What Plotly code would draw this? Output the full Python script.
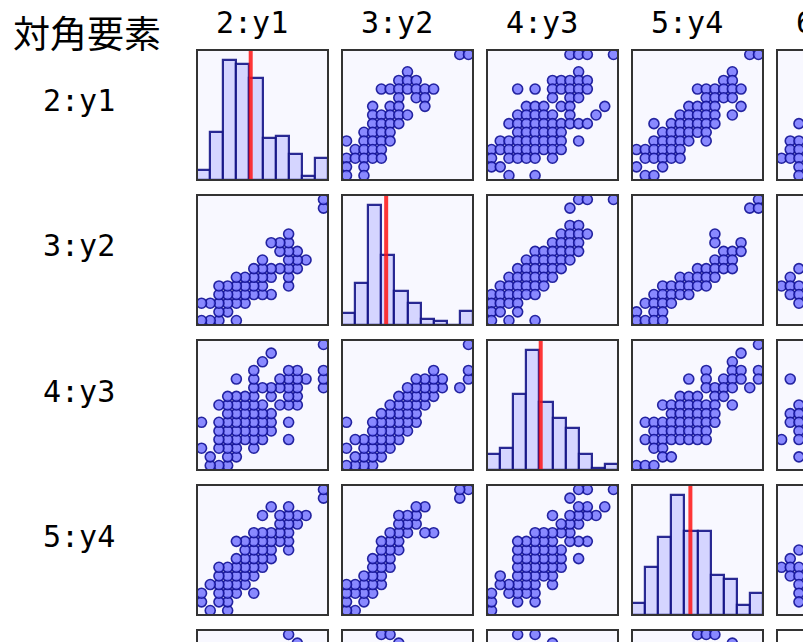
import plotly.graph_objects as go

W, H = 803, 642

# ---------------- labels ----------------
title_text = "対角要素"
var_labels = ["2:y1", "3:y2", "4:y3", "5:y4", "6:y5"]

# ---------------- histogram data (10 bins over [0, 14]) ----------------
hist_min, hist_max = 0, 14
hist_y1 = [5, 24, 60, 58, 51, 21, 22, 13, 2, 11]
hist_y2 = [6, 21, 60, 35, 17, 11, 3, 2, 0, 7]
hist_y3 = [8, 11, 38, 60, 34, 26, 21, 8, 1, 3]
hist_y4 = [6, 24, 39, 60, 42, 42, 20, 18, 5, 11]
means = [5.74, 4.72, 5.74, 6.24]

# ---------------- scatter data: {row value: [column values]} ----------------
# row variable on the y axis, column variable on the x axis
y1_vs_y2 = {14: [13, 14], 12: [7], 11: [6, 7, 8], 10: [4, 5, 6, 7, 8, 9, 10],
            9: [6, 8, 9], 8: [3, 5, 6, 9], 7: [3, 4, 5, 6, 7], 6: [3, 4, 5, 6],
            5: [2, 3, 4, 5], 4: [0, 2, 3, 4, 5], 3: [1, 2, 3, 4],
            2: [0, 1, 2, 3, 4], 1: [0, 2], 0: [0, 2]}
y1_vs_y3 = {14: [9, 10, 11, 14], 12: [10], 11: [7, 8, 9, 10, 11],
            10: [3, 5, 7, 8, 9, 10, 11], 9: [7, 9, 10], 8: [4, 5, 6, 8, 9, 13],
            7: [3, 4, 5, 6, 7, 9, 12], 6: [2, 3, 4, 5, 6, 7, 8, 9, 10, 11],
            5: [3, 4, 5, 6, 7, 8], 4: [1, 2, 3, 4, 5, 6, 7, 8, 10],
            3: [0, 1, 2, 3, 4, 5, 6, 7, 8], 2: [0, 2, 3, 4, 5, 7], 1: [0, 1], 0: [2, 5]}
y1_vs_y4 = {14: [13, 14], 12: [11], 11: [10, 11], 10: [7, 8, 9, 10, 11, 12],
            9: [8, 9, 10, 11], 8: [6, 7, 8, 9, 12], 7: [5, 6, 7, 8, 9, 11],
            6: [2, 4, 5, 6, 7, 8, 9], 5: [3, 4, 5, 6, 7, 8], 4: [2, 3, 4, 5, 6, 8],
            3: [0, 1, 2, 3, 4, 5], 2: [1, 2, 3, 4, 5], 1: [0, 3], 0: [1, 2]}
y2_vs_y3 = {14: [10, 11, 14], 13: [9], 11: [9, 10], 10: [8, 9, 10, 11],
            9: [7, 8, 9, 10], 8: [5, 6, 7, 8, 9, 10], 7: [4, 5, 6, 7, 8, 9],
            6: [3, 4, 5, 6, 7, 8], 5: [2, 3, 4, 5, 6, 7], 4: [1, 2, 3, 4, 5, 6],
            3: [0, 1, 2, 3, 4, 5], 2: [0, 1, 2, 3], 1: [0, 1, 3], 0: [0, 2, 5]}
y2_vs_y4 = {14: [14], 13: [13, 14], 10: [9], 9: [9, 12], 8: [10, 11, 12],
            7: [9, 10, 11], 6: [7, 8, 9, 10, 11], 5: [5, 6, 7, 8, 9],
            4: [3, 4, 5, 6, 7, 8], 3: [2, 3, 4, 5, 6], 2: [1, 2, 3, 4],
            1: [0, 2, 3], 0: [0, 1, 2, 3]}
y3_vs_y4 = {14: [14], 13: [12], 12: [11], 11: [8, 11, 12, 14],
            10: [6, 8, 10, 11, 12, 14], 9: [8, 9, 10, 11, 13], 8: [5, 6, 7, 9, 10],
            7: [3, 4, 5, 6, 7, 8, 9, 11], 6: [4, 5, 6, 7, 8, 9],
            5: [1, 2, 3, 4, 5, 6, 7, 8, 9], 4: [2, 3, 4, 5, 6, 7, 8],
            3: [1, 2, 3, 4, 5, 6, 7, 8], 2: [2, 3], 1: [3, 4], 0: [0, 1, 2]}
# partially visible panels (y5 column / row)
y1_vs_y5 = {6: [2], 4: [1, 2], 3: [1, 2], 2: [0, 1, 2], 1: [2], 0: [2]}
y2_vs_y5 = {6: [2], 5: [1], 4: [0, 1, 2], 3: [1, 2], 2: [2]}
y3_vs_y5 = {10: [1], 7: [2], 6: [1, 2], 5: [1, 2], 4: [2], 3: [0, 2], 1: [2]}
y4_vs_y5 = {7: [2], 6: [1], 5: [0, 1, 2], 4: [1, 2], 3: [2], 2: [2], 1: [2]}
y5_vs_y1 = {14: [10], 13: [11]}
y5_vs_y2 = {14: [4, 5], 13: [6]}
y5_vs_y3 = {14: [3, 5], 13: [7]}
y5_vs_y4 = {14: [7, 8, 9], 13: [11]}

upper = {(0, 1): y1_vs_y2, (0, 2): y1_vs_y3, (0, 3): y1_vs_y4,
         (1, 2): y2_vs_y3, (1, 3): y2_vs_y4, (2, 3): y3_vs_y4,
         (0, 4): y1_vs_y5, (1, 4): y2_vs_y5, (2, 4): y3_vs_y5, (3, 4): y4_vs_y5}
bottom_row = {0: y5_vs_y1, 1: y5_vs_y2, 2: y5_vs_y3, 3: y5_vs_y4}
hists = [hist_y1, hist_y2, hist_y3, hist_y4]


def expand(d):
    xs, ys = [], []
    for yv, xl in d.items():
        for xv in xl:
            xs.append(xv)
            ys.append(yv)
    return xs, ys


# ---------------- layout geometry (pixels) ----------------
col_left = [197 + 145 * k for k in range(5)]
row_top = [50 + 145 * k for k in range(5)]
PW, PH = 131, 130
lo, hi = -0.52, 14.52

fig = go.Figure()
layout = dict(width=W, height=H, margin=dict(l=0, r=0, t=0, b=0, pad=0),
              paper_bgcolor="white", plot_bgcolor="#f8f8ff",
              showlegend=False, bargap=0, barmode="overlay")
shapes, annotations = [], []

MARK = dict(size=10, color="rgba(118,118,255,0.85)",
            line=dict(width=1.6, color="rgba(18,18,150,0.9)"))
BAR_FILL = "rgba(208,208,255,0.9)"
BAR_LINE = "rgba(20,20,135,0.9)"

for r in range(5):
    for c in range(5):
        n = r * 5 + c + 1
        sfx = "" if n == 1 else str(n)
        x0p, y0p = col_left[c], row_top[r]
        vis_w = min(PW, W - x0p)
        vis_h = min(PH, H - y0p)
        xd = [x0p / W, min(1.0, (x0p + PW) / W)]
        yd = [max(0.0, 1 - (y0p + PH) / H), 1 - y0p / H]

        if r == c:
            if r < 4:
                counts = hists[r]
                bw = (hist_max - hist_min) / len(counts)
                centers = [hist_min + bw * (i + 0.5) for i in range(len(counts))]
                fig.add_trace(go.Bar(x=centers, y=counts, width=bw,
                                     marker=dict(color=BAR_FILL,
                                                 line=dict(color=BAR_LINE, width=2.2)),
                                     xaxis="x" + sfx, yaxis="y" + sfx))
                shapes.append(dict(type="line", xref="x" + sfx, yref="y" + sfx + " domain",
                                   x0=means[r], x1=means[r], y0=0, y1=1,
                                   line=dict(color="rgba(255,20,20,0.85)", width=4),
                                   layer="above"))
            xr = [hist_min, hist_min + (hist_max - hist_min) * vis_w / PW]
            top = (max(hists[r]) if r < 4 else 60) * 1.083
            yr = [top - top * vis_h / PH, top]
        else:
            if r < 4 and c < 4:
                d = upper[(r, c)] if r < c else upper[(c, r)]
                xs, ys = expand(d)
                if r > c:
                    xs, ys = ys, xs
            elif c == 4:
                xs, ys = expand(upper[(r, 4)])
            else:
                xs, ys = expand(bottom_row[c])
            fig.add_trace(go.Scatter(x=xs, y=ys, mode="markers", marker=MARK,
                                     xaxis="x" + sfx, yaxis="y" + sfx))
            xr = [lo, lo + (hi - lo) * vis_w / PW]
            yr = [hi - (hi - lo) * vis_h / PH, hi]

        layout["xaxis" + sfx] = dict(domain=xd, range=xr, anchor="y" + sfx,
                                     showgrid=False, zeroline=False, showline=False,
                                     showticklabels=False, ticks="", fixedrange=True)
        layout["yaxis" + sfx] = dict(domain=yd, range=yr, anchor="x" + sfx,
                                     showgrid=False, zeroline=False, showline=False,
                                     showticklabels=False, ticks="", fixedrange=True)
        shapes.append(dict(type="rect", xref="paper", yref="paper",
                           x0=x0p / W, x1=(x0p + PW) / W,
                           y0=1 - (y0p + PH) / H, y1=1 - y0p / H,
                           line=dict(color="#333333", width=2), layer="above"))

# title
annotations.append(dict(text=title_text, xref="paper", yref="paper",
                        x=11 / W, y=1 - 32 / H, xanchor="left", yanchor="middle",
                        showarrow=False,
                        font=dict(family="Noto Sans CJK JP", size=37, color="black")))
for k, lab in enumerate(var_labels):
    annotations.append(dict(text=lab, xref="paper", yref="paper",
                            x=(214 + 145 * k) / W, y=1 - 22 / H,
                            xanchor="left", yanchor="middle", showarrow=False,
                            font=dict(family="DejaVu Sans Mono", size=30, color="black")))
    if k < 4:
        annotations.append(dict(text=lab, xref="paper", yref="paper",
                                x=41 / W, y=1 - (101 + 145 * k) / H,
                                xanchor="left", yanchor="middle", showarrow=False,
                                font=dict(family="DejaVu Sans Mono", size=30, color="black")))

layout["shapes"] = shapes
layout["annotations"] = annotations
fig.update_layout(**layout)
fig.write_html("out.html")
